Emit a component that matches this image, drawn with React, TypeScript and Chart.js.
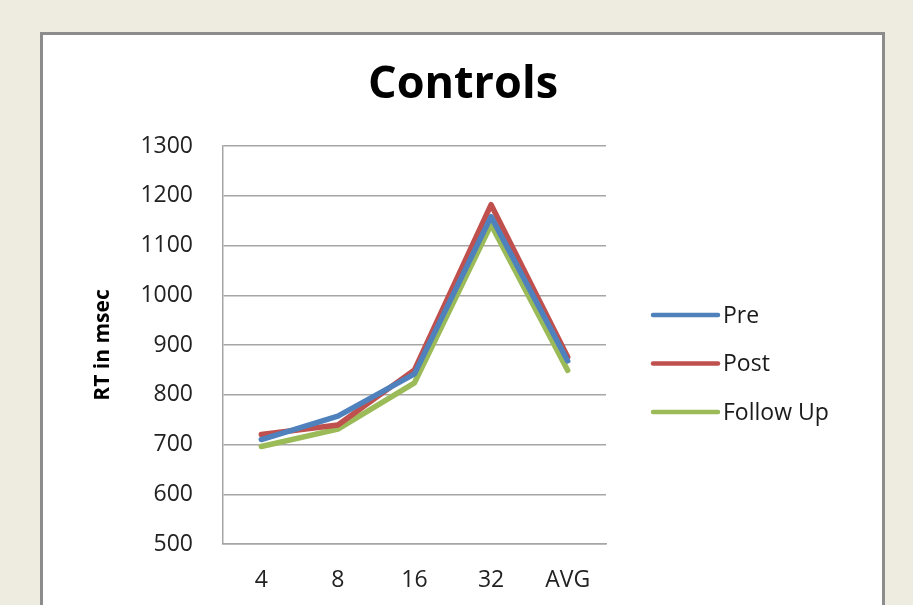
import React, { useEffect, useRef } from "react";
import { Chart, registerables } from "chart.js";

Chart.register(...registerables);

const categories = ["4", "8", "16", "32", "AVG"];
const preValues = [710, 757, 842, 1158, 868];
const postValues = [720, 739, 850, 1182, 876];
const followUpValues = [696, 731, 824, 1142, 849];
const seriesLabels = ["Pre", "Post", "Follow Up"];
const seriesColors = ["#4F81BD", "#C0504D", "#9BBB59"];
const yMin = 500;
const yMax = 1300;
const yStep = 100;

const FONT = "'Open Sans', Lato, sans-serif";

const legendPlugin = {
  id: "customLegend",
  afterDraw(chart: any) {
    const ctx = chart.ctx;
    const area = chart.chartArea;
    ctx.save();
    chart.data.datasets.forEach((ds: any, i: number) => {
      const y = area.top + 169 + i * 48.5;
      const x0 = area.right + 47;
      const x1 = x0 + 65;
      ctx.strokeStyle = ds.borderColor;
      ctx.lineWidth = 4.5;
      ctx.lineCap = "round";
      ctx.beginPath();
      ctx.moveTo(x0, y);
      ctx.lineTo(x1, y);
      ctx.stroke();
      ctx.fillStyle = "#1a1a1a";
      ctx.font = `23px ${FONT}`;
      ctx.textBaseline = "middle";
      ctx.textAlign = "left";
      ctx.fillText(ds.label, x1 + 5, y + 1);
    });
    ctx.restore();
  },
};

export default function App() {
  const ref = useRef<HTMLCanvasElement | null>(null);

  useEffect(() => {
    if (!ref.current) return;
    const data = [preValues, postValues, followUpValues];
    const chart = new Chart(ref.current, {
      type: "line",
      data: {
        labels: categories,
        datasets: data.map((vals, i) => ({
          label: seriesLabels[i],
          data: vals,
          borderColor: seriesColors[i],
          backgroundColor: seriesColors[i],
          borderWidth: 5.5,
          pointRadius: 0,
          tension: 0,
          fill: false,
          borderJoinStyle: "round" as const,
          borderCapStyle: "round" as const,
        })),
      },
      options: {
        animation: false,
        responsive: false,
        maintainAspectRatio: false,
        layout: { padding: { left: 90, right: 77, top: 0, bottom: 0 } },
        plugins: {
          legend: { display: false },
          tooltip: { enabled: false },
          title: {
            display: true,
            text: "Controls",
            color: "#000",
            font: { family: FONT, size: 45, weight: "bold" },
            padding: { top: 58, bottom: 34 },
          },
        },
        scales: {
          x: {
            offset: true,
            grid: { display: false, drawTicks: false },
            border: { display: true, color: "#a6a6a6", width: 1.5 },
            ticks: {
              color: "#222",
              font: { family: FONT, size: 23 },
              padding: 23,
            },
            afterFit: (s: any) => {
              s.height = 61;
            },
          },
          y: {
            min: yMin,
            max: yMax,
            grid: { color: "#a6a6a6", lineWidth: 1.5, drawTicks: false },
            border: { display: true, color: "#a6a6a6", width: 1.5 },
            ticks: {
              stepSize: yStep,
              color: "#222",
              font: { family: FONT, size: 23 },
              padding: 30,
              callback: (v: any) => String(v),
            },
            title: {
              display: true,
              text: "RT in msec",
              color: "#000",
              font: { family: FONT, size: 21, weight: "bold" },
              padding: 0,
            },
            afterFit: (s: any) => {
              s.width = 133;
            },
          },
          yR: {
            position: "right",
            display: true,
            grid: { display: false, drawOnChartArea: false, drawTicks: false },
            border: { display: false },
            ticks: { display: false },
            afterFit: (s: any) => {
              s.width = 230;
            },
          },
        },
      },
      plugins: [legendPlugin],
    });
    return () => chart.destroy();
  }, []);

  return (
    <div
      style={{
        position: "fixed",
        left: 0,
        top: 0,
        width: 913,
        height: 605,
        background: "#EEEBE0",
        overflow: "hidden",
      }}
    >
      <div
        style={{
          position: "absolute",
          left: 40,
          top: 32,
          width: 845,
          height: 700,
          boxSizing: "border-box",
          border: "3px solid #8c8c8c",
          background: "#fff",
        }}
      />
      <canvas
        ref={ref}
        width={913}
        height={605}
        style={{ position: "absolute", left: 0, top: 0, width: 913, height: 605 }}
      />
    </div>
  );
}
